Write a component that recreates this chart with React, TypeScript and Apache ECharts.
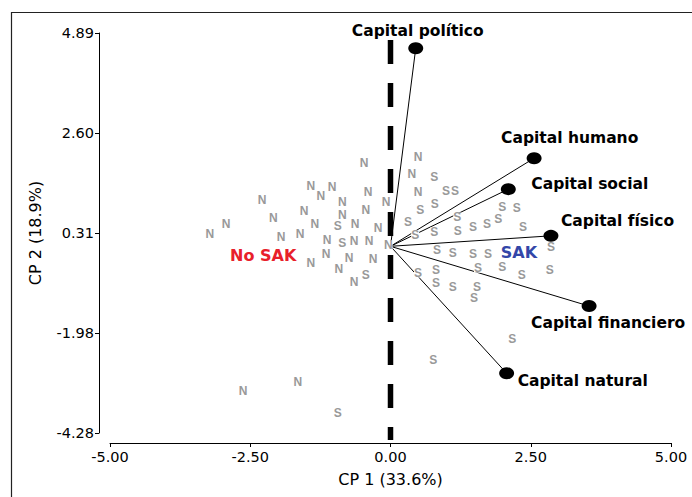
import React, { useEffect, useRef } from "react";
import * as echarts from "echarts";

// ---- Data ----
const nPoints: [number, number][] = [
  [-3.22, 0.28], [-2.93, 0.51], [-2.29, 1.06], [-2.09, 0.65], [-1.95, 0.21],
  [-1.61, 0.28], [-1.54, 0.81], [-1.42, 1.38], [-1.24, 1.15], [-1.04, 1.36],
  [-0.86, 1.02], [-0.86, 0.72], [-1.35, 0.51], [-0.63, 0.51], [-0.47, 1.92],
  [-0.40, 1.24], [-0.44, 0.83], [-0.08, 1.02], [-0.22, 0.42], [-1.13, 0.14],
  [-0.65, 0.12], [-0.38, 0.12], [-0.04, 0.03], [-1.42, -0.38], [-1.15, -0.18],
  [-0.74, -0.27], [-0.31, -0.29], [-0.92, -0.52], [-0.65, -0.82], [0.49, 2.05],
  [0.38, 1.66], [0.49, 1.24], [-2.63, -3.32], [-1.65, -3.11],
];

const sPoints: [number, number][] = [
  [-0.94, 0.47], [-0.86, 0.08], [-0.44, -0.66], [0.78, 1.59], [0.99, 1.27],
  [1.15, 1.27], [0.79, 0.97], [0.53, 0.83], [1.99, 0.90], [2.25, 0.88],
  [1.19, 0.67], [0.31, 0.56], [0.44, 0.26], [0.78, 0.33], [1.20, 0.35],
  [1.47, 0.44], [1.72, 0.51], [1.92, 0.63], [2.36, 0.44], [0.83, -0.08],
  [1.11, -0.15], [1.47, -0.18], [1.74, -0.18], [2.86, -0.02], [0.49, -0.61],
  [0.81, -0.54], [1.56, -0.50], [1.99, -0.47], [2.34, -0.66], [2.84, -0.54],
  [0.81, -0.84], [1.11, -0.93], [1.54, -0.93], [1.49, -1.19], [0.76, -2.61],
  [2.17, -2.13], [-0.94, -3.83],
];

const vectorNames = [
  "Capital político",
  "Capital humano",
  "Capital social",
  "Capital físico",
  "Capital financiero",
  "Capital natural",
];
const vectorX = [0.45, 2.56, 2.10, 2.86, 3.54, 2.07];
const vectorY = [4.54, 2.02, 1.31, 0.24, -1.37, -2.91];

const groupNames = ["No SAK", "SAK"];
const groupX = [-2.27, 2.29];
const groupY = [-0.2, -0.14];

const xTickLabels = ["-5.00", "-2.50", "0.00", "2.50", "5.00"];
const yTickLabels = ["-4.28", "-1.98", "0.31", "2.60", "4.89"];
const xAxisTitle = "CP 1 (33.6%)";
const yAxisTitle = "CP 2 (18.9%)";

const dividerTop = 4.73;
const dividerBottom = -4.44;

export default function App() {
  const ref = useRef<HTMLDivElement>(null);

  useEffect(() => {
    if (!ref.current) return;
    const chart = echarts.init(ref.current, undefined, { renderer: "svg" });

    const sans = "'DejaVu Sans', Verdana, sans-serif";
    const arial = "'Liberation Sans', Arial, sans-serif";

    // label placement for the vector end labels (style, not data)
    const vectorLabelPlacement = [
      { align: "center", offset: [2, -17] },
      { align: "left", offset: [-33, -20] },
      { align: "left", offset: [23, -5] },
      { align: "left", offset: [10, -15] },
      { align: "left", offset: [-58, 17] },
      { align: "left", offset: [11, 8] },
    ];
    const groupColors = ["#e8202a", "#3346a8"];

    const letterLabel = (letter: string) => ({
      show: true,
      position: "inside",
      formatter: letter,
      color: "#999999",
      opacity: 1,
      fontFamily: arial,
      fontWeight: "bold",
      fontSize: 12,
      backgroundColor: "#ffffff",
      padding: 0,
      lineHeight: 9,
    });

    const vectorSeries = vectorNames.map((n, i) => ({
      type: "line",
      name: n,
      data: [
        [0, 0],
        [vectorX[i], vectorY[i]],
      ],
      symbol: "none",
      silent: true,
      lineStyle: { color: "#000", width: 1, opacity: 1 },
      z: 2,
    }));

    const option: any = {
      animation: false,
      backgroundColor: "#ffffff",
      grid: { left: 110, right: 21, top: 33, bottom: 64, containLabel: false },
      xAxis: {
        type: "value",
        min: -5,
        max: 5,
        interval: 2.5,
        position: "bottom",
        offset: 10,
        name: xAxisTitle,
        nameLocation: "middle",
        nameGap: 28,
        nameTextStyle: { fontFamily: sans, fontSize: 16, color: "#000" },
        axisLine: { show: true, onZero: false, lineStyle: { color: "#000", width: 1 } },
        axisTick: { show: true, length: 4, lineStyle: { color: "#000" } },
        axisLabel: {
          margin: 6,
          color: "#000",
          fontFamily: sans,
          fontSize: 14.5,
          formatter: (_v: number, idx: number) => xTickLabels[idx],
        },
        splitLine: { show: false },
      },
      yAxis: [
        {
          type: "value",
          min: -4.28,
          max: 4.89,
          show: false,
          splitLine: { show: false },
        },
        {
          type: "value",
          min: 0,
          max: 4,
          interval: 1,
          position: "left",
          offset: 11,
          name: yAxisTitle,
          nameLocation: "middle",
          nameRotate: 90,
          nameGap: 56,
          nameTextStyle: { fontFamily: sans, fontSize: 16, color: "#000" },
          axisLine: { show: true, onZero: false, lineStyle: { color: "#000", width: 1 } },
          axisTick: { show: true, length: 4, lineStyle: { color: "#000" } },
          axisLabel: {
            margin: 5,
            color: "#000",
            fontFamily: sans,
            fontSize: 14.5,
            formatter: (v: number) => yTickLabels[Math.round(v)],
          },
          splitLine: { show: false },
        },
      ],
      graphic: [
        {
          type: "rect",
          shape: { x: 11.5, y: 12.5, width: 720, height: 520 },
          style: { fill: "none", stroke: "#222", lineWidth: 1.2 },
          silent: true,
          z: 0,
        },
      ],
      series: [
        ...vectorSeries,
        {
          type: "scatter",
          name: "N",
          data: nPoints,
          symbol: "circle",
          symbolSize: 1,
          itemStyle: { color: "rgba(0,0,0,0)", opacity: 1 },
          label: letterLabel("N"),
          silent: true,
          z: 3,
        },
        {
          type: "scatter",
          name: "S",
          data: sPoints,
          symbol: "circle",
          symbolSize: 1,
          itemStyle: { color: "rgba(0,0,0,0)", opacity: 1 },
          label: letterLabel("S"),
          silent: true,
          z: 3,
        },
        {
          type: "scatter",
          name: "vectors",
          data: vectorNames.map((n, i) => ({
            name: n,
            value: [vectorX[i], vectorY[i]],
            label: {
              show: true,
              position: "inside",
              formatter: n,
              align: vectorLabelPlacement[i].align,
              verticalAlign: "middle",
              offset: vectorLabelPlacement[i].offset,
              color: "#000",
              opacity: 1,
              fontFamily: sans,
              fontWeight: "bold",
              fontSize: 15.5,
            },
          })),
          symbol: "circle",
          symbolSize: [15, 12],
          itemStyle: { color: "#000", opacity: 1 },
          silent: true,
          z: 4,
        },
        {
          type: "scatter",
          name: "groups",
          data: groupNames.map((n, i) => ({
            name: n,
            value: [groupX[i], groupY[i]],
            label: {
              show: true,
              position: "inside",
              formatter: n,
              color: groupColors[i],
              opacity: 1,
              fontFamily: sans,
              fontWeight: "bold",
              fontSize: 16,
              lineHeight: 13,
            },
          })),
          symbol: "circle",
          symbolSize: 1,
          itemStyle: { color: "rgba(0,0,0,0)", opacity: 1 },
          silent: true,
          z: 4,
        },
        {
          type: "line",
          name: "divider",
          data: [
            [0, dividerTop],
            [0, dividerBottom],
          ],
          symbol: "none",
          clip: false,
          silent: true,
          lineStyle: { color: "#000", width: 5.5, type: [24, 19], cap: "butt", opacity: 1 },
          z: 5,
        },
      ],
    };

    chart.setOption(option);
    return () => chart.dispose();
  }, []);

  return (
    <div
      ref={ref}
      style={{ position: "fixed", left: 0, top: 0, width: 692, height: 497, background: "#fff" }}
    />
  );
}
